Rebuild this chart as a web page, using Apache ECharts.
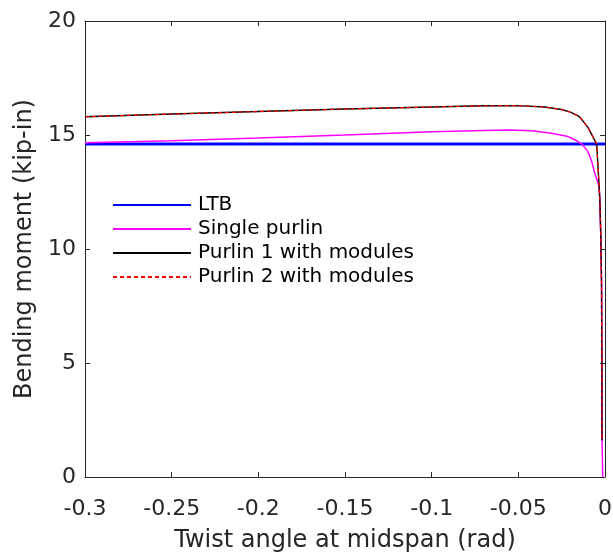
<!DOCTYPE html>
<html lang="en">
<head>
    <meta charset="UTF-8">
    <title>Bending moment vs twist angle</title>
    <script src="https://cdn.jsdelivr.net/npm/echarts@6/dist/echarts.min.js"></script>
    <style>
        html, body { margin: 0; padding: 0; background: #fff; }
        #myChart { width: 613px; height: 556px; }
    </style>
</head>
<body>
<div id="myChart"></div>
<script type="text/javascript">
    // LTB (constant)
    var ltbX = [-0.3, 0];
    var ltbY = [14.61, 14.61];

    // Single purlin
    var singleX = [-0.3, -0.25, -0.2, -0.15, -0.1, -0.07, -0.055, -0.042, -0.03, -0.022, -0.017, -0.0133,
        -0.0098, -0.0077, -0.006, -0.0045, -0.0034, -0.003, -0.0024, -0.002, -0.0018, -0.0017, -0.0013];
    var singleY = [14.66, 14.75, 14.87, 15.0, 15.14, 15.2, 15.22, 15.19, 15.07, 14.95, 14.78, 14.6,
        14.27, 13.85, 13.35, 13.0, 12.75, 12.2, 10.5, 8.5, 5.0, 1.6, 0];

    // Purlin 1 and Purlin 2 with modules (overlapping)
    var purlinX = [-0.3, -0.25, -0.2, -0.15, -0.1, -0.07, -0.05, -0.035, -0.025, -0.02, -0.015, -0.0115,
        -0.0096, -0.0072, -0.0048, -0.0038, -0.003, -0.0024, -0.002, -0.0018, -0.0017];
    var purlin1Y = [15.80, 15.92, 16.03, 16.14, 16.23, 16.28, 16.29, 16.23, 16.12, 16.0, 15.82, 15.5,
        15.3, 14.95, 14.6, 13.3, 12.2, 10.5, 8.5, 5.0, 1.6];
    var purlin2Y = [15.80, 15.92, 16.03, 16.14, 16.23, 16.28, 16.29, 16.23, 16.12, 16.0, 15.82, 15.5,
        15.3, 14.95, 14.6, 13.3, 12.2, 10.5, 8.5, 5.0, 1.6];

    var xTicks = [-0.3, -0.25, -0.2, -0.15, -0.1, -0.05, 0];
    var yTicks = [0, 5, 10, 15, 20];

    function pairs(xs, ys) {
        var out = [];
        for (var i = 0; i < xs.length; i++) {
            out.push([xs[i], ys[i]]);
        }
        return out;
    }

    function fmt(v) {
        var n = parseFloat(Number(v).toFixed(2));
        if (n === 0) return "0";
        return String(n);
    }

    var axisColor = "#262626";
    var fontFam = "DejaVu Sans, sans-serif";

    function baseX(pos, show) {
        return {
            type: "value",
            position: pos,
            min: xTicks[0],
            max: xTicks[xTicks.length - 1],
            interval: 0.05,
            axisLine: {show: true, onZero: false, lineStyle: {color: axisColor, width: 1}},
            axisTick: {show: true, inside: true, length: 5, lineStyle: {color: axisColor}},
            axisLabel: {show: show, color: axisColor, fontSize: 22, fontFamily: fontFam, margin: 21, formatter: fmt},
            splitLine: {show: false}
        };
    }

    function baseY(pos, show) {
        return {
            type: "value",
            position: pos,
            min: yTicks[0],
            max: yTicks[yTicks.length - 1],
            interval: 5,
            axisLine: {show: true, onZero: false, lineStyle: {color: axisColor, width: 1}},
            axisTick: {show: true, inside: true, length: 5, lineStyle: {color: axisColor}},
            axisLabel: {show: show, color: axisColor, fontSize: 22, fontFamily: fontFam, margin: 9},
            splitLine: {show: false}
        };
    }

    var xMain = baseX("bottom", true);
    xMain.name = "Twist angle at midspan (rad)";
    xMain.nameLocation = "middle";
    xMain.nameGap = 52;
    xMain.nameTextStyle = {color: axisColor, fontSize: 24, fontFamily: fontFam};

    var yMain = baseY("left", true);
    yMain.name = "Bending moment (kip-in)";
    yMain.nameLocation = "middle";
    yMain.nameGap = 41;
    yMain.nameTextStyle = {color: axisColor, fontSize: 24, fontFamily: fontFam};

    var myChart = echarts.init(document.getElementById("myChart"), null, {renderer: "canvas"});
    var option = {
        animation: false,
        backgroundColor: "#fff",
        grid: {left: 85, right: 8, top: 21, bottom: 79, containLabel: false, outerBoundsMode: "none"},
        xAxis: [xMain, baseX("top", false)],
        yAxis: [yMain, baseY("right", false)],
        legend: {
            orient: "vertical",
            left: 112,
            top: 195,
            padding: 0,
            itemWidth: 78,
            itemHeight: 14,
            itemGap: 4,
            itemStyle: {opacity: 0},
            textStyle: {color: "#000", fontSize: 20, fontFamily: fontFam, padding: [0, 0, 0, 2]},
            data: ["LTB", "Single purlin", "Purlin 1 with modules", "Purlin 2 with modules"]
        },
        series: [
            {
                name: "LTB", type: "line", showSymbol: false, symbol: "none",
                data: pairs(ltbX, ltbY),
                lineStyle: {color: "#0000ff", width: 3}, itemStyle: {color: "#0000ff"}
            },
            {
                name: "Single purlin", type: "line", showSymbol: false, symbol: "none",
                data: pairs(singleX, singleY),
                lineStyle: {color: "#ff00ff", width: 1.5}, itemStyle: {color: "#ff00ff"}
            },
            {
                name: "Purlin 1 with modules", type: "line", showSymbol: false, symbol: "none",
                data: pairs(purlinX, purlin1Y),
                lineStyle: {color: "#000000", width: 1.4}, itemStyle: {color: "#000000"}
            },
            {
                name: "Purlin 2 with modules", type: "line", showSymbol: false, symbol: "none",
                data: pairs(purlinX, purlin2Y),
                lineStyle: {color: "#ff0000", width: 1.2, type: [4, 3]}, itemStyle: {color: "#ff0000"}
            }
        ]
    };
    myChart.setOption(option);
</script>
</body>
</html>
